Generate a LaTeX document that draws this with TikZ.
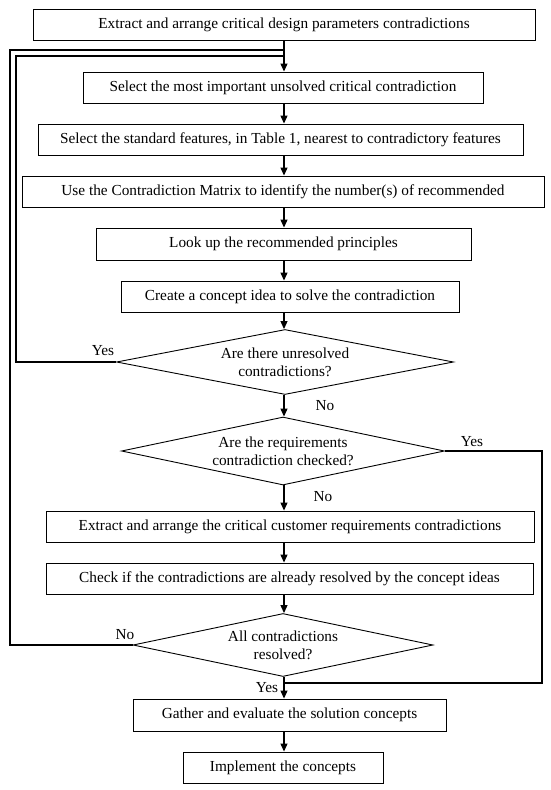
\documentclass[tikz,border=0pt]{standalone}
\usepackage{fontspec}
\setmainfont{Liberation Serif}
\usetikzlibrary{shapes.geometric,arrows.meta}
\begin{document}
\begin{tikzpicture}[x=1pt,y=-1pt,
  every node/.style={font=\fontsize{15.3}{17.6}\selectfont},
  stepbox/.style={draw, line width=0.9pt, inner sep=0pt, minimum height=31pt},
  decision/.style={draw, diamond, line width=0.9pt, inner sep=0pt, align=center},
  arr/.style={line width=1.1pt, -{Triangle[length=8pt,width=7pt]}},
  ln/.style={line width=1.1pt},
  lbl/.style={inner sep=0pt}]
\useasboundingbox (0,0) rectangle (550,790);
\coordinate (ax) at (284,0);
\coordinate (Lin) at (16,0);
\coordinate (Lout) at (10,0);
\coordinate (Rr) at (542,0);

\node[stepbox, minimum width=502pt] (b1) at (284,24.5) {Extract and arrange critical design parameters contradictions};
\node[stepbox, minimum width=400pt] (b2) at (283,87.5) {Select the most important unsolved critical contradiction};
\node[stepbox, minimum width=485pt] (b3) at (280.5,139.5) {Select the standard features, in Table 1, nearest to contradictory features};
\node[stepbox, minimum width=522pt] (b4) at (283,191.5) {Use the Contradiction Matrix to identify the number(s) of recommended};
\node[stepbox, minimum width=375pt, minimum height=32pt] (b5) at (283.5,244) {Look up the recommended principles};
\node[stepbox, minimum width=338pt] (b6) at (290,296.5) {Create a concept idea to solve the contradiction};
\node[decision, aspect=5.18, minimum width=337pt, minimum height=65pt] (d1) at (285,362) {Are there unresolved\\contradictions?};
\node[decision, aspect=4.75, minimum width=323pt, minimum height=68pt] (d2) at (283,451) {Are the requirements\\contradiction checked?};
\node[stepbox, minimum width=488pt] (b7) at (290,526.5) {Extract and arrange the critical customer requirements contradictions};
\node[stepbox, minimum width=487pt] (b8) at (289.5,578.5) {Check if the contradictions are already resolved by the concept ideas};
\node[decision, aspect=4.76, minimum width=300pt, minimum height=63pt] (d3) at (283,645) {All contradictions\\resolved?};
\node[stepbox, minimum width=313pt, minimum height=32pt] (b9) at (289.5,715) {Gather and evaluate the solution concepts};
\node[stepbox, minimum width=200pt] (b10) at (283,767.5) {Implement the concepts};

% main arrows
\draw[arr] (b1.south -| ax) -- (b2.north -| ax);
\draw[arr] (b2.south -| ax) -- (b3.north -| ax);
\draw[arr] (b3.south -| ax) -- (b4.north -| ax);
\draw[arr] (b4.south -| ax) -- (b5.north -| ax);
\draw[arr] (b5.south -| ax) -- (b6.north -| ax);
\draw[arr] (b6.south -| ax) -- (d1.north -| ax);
\draw[arr] (d1.south -| ax) -- (d2.north -| ax);
\draw[arr] (d2.south -| ax) -- (b7.north -| ax);
\draw[arr] (b7.south -| ax) -- (b8.north -| ax);
\draw[arr] (b8.south -| ax) -- (d3.north -| ax);
\draw[arr] (d3.south -| ax) -- (b9.north -| ax);
\draw[arr] (b9.south -| ax) -- (b10.north -| ax);

% loops
\coordinate (j1) at (284,56);
\coordinate (j2) at (284,50);
\coordinate (j3) at (284,683);
\draw[ln] (d1.west) -- (d1.west -| Lin) |- (j1);
\draw[ln] (d3.west) -- (d3.west -| Lout) |- (j2);
\draw[ln] (d2.east) -- (d2.east -| Rr) |- (j3);

% labels
\node[lbl] (y1) at (103,351) {Yes};
\node[lbl] (n1) at (325,406) {No};
\node[lbl] (y2) at (472,442) {Yes};
\node[lbl] (n2) at (323,497) {No};
\node[lbl] (n3) at (125,635) {No};
\node[lbl] (y3) at (267,688) {Yes};
\end{tikzpicture}
\end{document}
